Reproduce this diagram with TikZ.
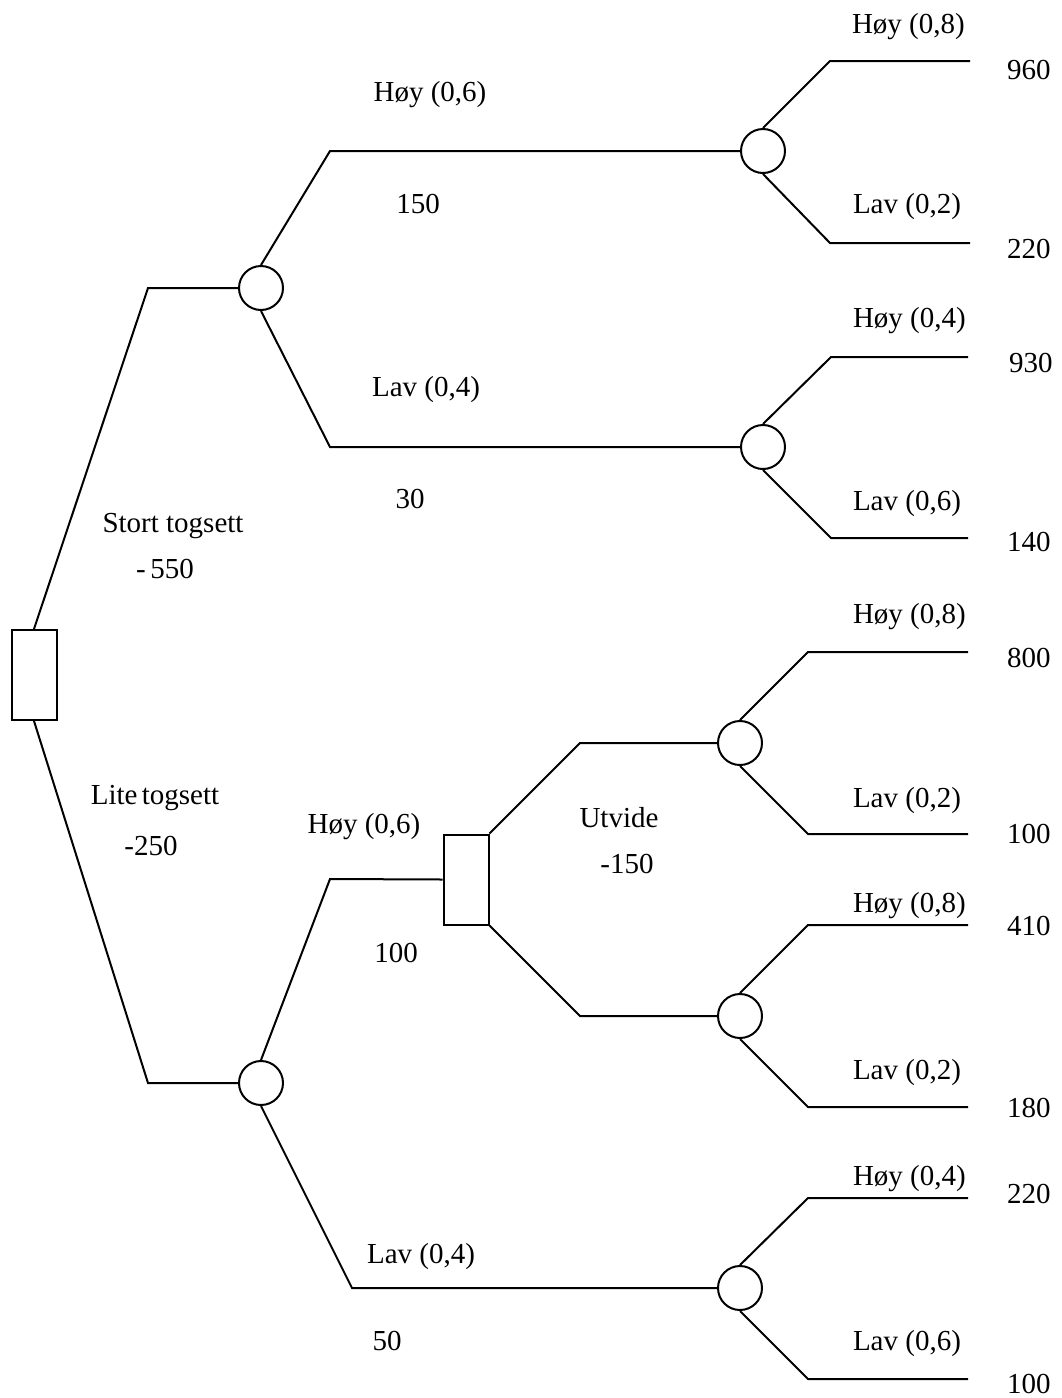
\documentclass[tikz,border=0pt]{standalone}
\usepackage{fontspec}
\setmainfont{Liberation Serif}
\begin{document}
\begin{tikzpicture}[x=1pt,y=-1pt,
  line width=2pt, line join=miter,
  every node/.style={font=\fontsize{29}{34}\selectfont},
  decision/.style={draw, rectangle, inner sep=0pt, minimum width=45pt, minimum height=90pt},
  chance/.style={draw, circle, inner sep=0pt, minimum size=44pt},
  lbl/.style={anchor=base, inner sep=0pt},
  rlbl/.style={anchor=base west, inner sep=0pt}]
\useasboundingbox (0,0) rectangle (1061,1398);

% decision and chance nodes
\node[decision] (root) at (34,675) {};
\node[decision] (d2) at (466,879.5) {};
\node[chance] (c1) at (261,288) {};
\node[chance] (c2) at (261,1083) {};
\node[chance] (c11) at (763,151) {};
\node[chance] (c12) at (763,447) {};
\node[chance] (c21) at (740,743) {};
\node[chance] (c22) at (740,1016) {};
\node[chance] (c3) at (740,1288) {};

% leaf ends
\coordinate (e1) at (970,61);
\coordinate (e2) at (970,243);
\coordinate (e3) at (968,357);
\coordinate (e4) at (968,538);
\coordinate (e5) at (968,652);
\coordinate (e6) at (968,834);
\coordinate (e7) at (968,925);
\coordinate (e8) at (968,1107);
\coordinate (e9) at (968,1198);
\coordinate (e10) at (968,1379);

% first-stage branches
\draw (root.north) -- (148,288) -- (c1.west);
\draw (root.south) -- (148,1083) -- (c2.west);
% second-stage branches
\draw (c1.north) -- (330,151) -- (c11.west);
\draw (c1.south) -- (330,447) -- (c12.west);
\draw (c2.north) -- (330,879) -- (d2.west);
\draw (c2.south) -- (352,1288) -- (c3.west);
\draw (d2.north east) -- (580,743) -- (c21.west);
\draw (d2.south east) -- (580,1016) -- (c22.west);
% outcome branches
\draw (c11.north) -- (830,61) -- (e1);
\draw (c11.south) -- (830,243) -- (e2);
\draw (c12.north) -- (831,357) -- (e3);
\draw (c12.south) -- (831,538) -- (e4);
\draw (c21.north) -- (808,652) -- (e5);
\draw (c21.south) -- (808,834) -- (e6);
\draw (c22.north) -- (808,925) -- (e7);
\draw (c22.south) -- (808,1107) -- (e8);
\draw (c3.north) -- (808,1198) -- (e9);
\draw (c3.south) -- (808,1379) -- (e10);

% branch labels on the left part
\node[lbl] (t1) at (430,101) {Høy (0,6)};
\node[lbl] (t2) at (418,213) {150};
\node[lbl] (t3) at (426,396) {Lav (0,4)};
\node[lbl] (t4) at (410,508) {30};
\node[lbl] (t5) at (173,532) {Stort togsett};
\node[lbl] (t6) at (165,578) {-\,550};
\node[lbl] (t7) at (155,804) {Lite\hspace{0.15em}togsett};
\node[lbl] (t8) at (151,855) {-250};
\node[lbl] (t9) at (619,827) {Utvide};
\node[lbl] (t10) at (627,873) {-150};
\node[lbl] (t11) at (364,833) {Høy (0,6)};
\node[lbl] (t12) at (396,962) {100};
\node[lbl] (t13) at (421,1263) {Lav (0,4)};
\node[lbl] (t14) at (387,1350) {50};

% outcome labels
\node[rlbl] (p1) at (851,33) {Høy (0,8)};
\node[rlbl] (p2) at (852,213) {Lav (0,2)};
\node[rlbl] (p3) at (852,327) {Høy (0,4)};
\node[rlbl] (p4) at (852,510) {Lav (0,6)};
\node[rlbl] (p5) at (852,623) {Høy (0,8)};
\node[rlbl] (p6) at (852,807) {Lav (0,2)};
\node[rlbl] (p7) at (852,912) {Høy (0,8)};
\node[rlbl] (p8) at (852,1079) {Lav (0,2)};
\node[rlbl] (p9) at (852,1185) {Høy (0,4)};
\node[rlbl] (p10) at (852,1350) {Lav (0,6)};

% payoffs
\node[rlbl] (v1) at (1006,79) {960};
\node[rlbl] (v2) at (1006,258) {220};
\node[rlbl] (v3) at (1008,372) {930};
\node[rlbl] (v4) at (1006,551) {140};
\node[rlbl] (v5) at (1006,667) {800};
\node[rlbl] (v6) at (1006,843) {100};
\node[rlbl] (v7) at (1006,935) {410};
\node[rlbl] (v8) at (1006,1117) {180};
\node[rlbl] (v9) at (1006,1203) {220};
\node[rlbl] (v10) at (1006,1393) {100};
\end{tikzpicture}
\end{document}
